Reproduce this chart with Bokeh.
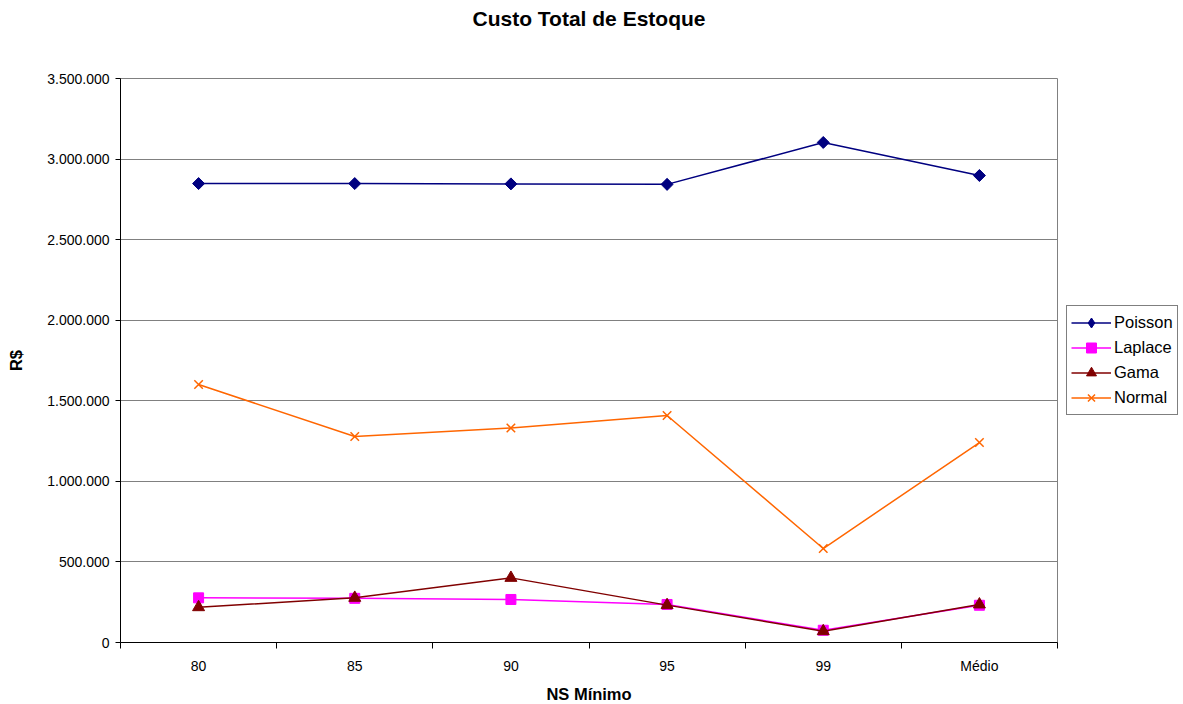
import math

from bokeh.plotting import figure
from bokeh.models import (ColumnDataSource, FixedTicker, Legend, LegendItem,
                          Range1d, Title)
from bokeh.embed import file_html
from bokeh.resources import INLINE

# Service-level categories (x axis)
categorias = ["80", "85", "90", "95", "99", "Médio"]

# Total inventory cost per distribution (R$)
poisson = [2848000, 2848000, 2846000, 2843000, 3103000, 2898000]
laplace = [277000, 274000, 267000, 236000, 76000, 231000]
gama = [219000, 277000, 401000, 232000, 70000, 236000]
normal = [1601000, 1278000, 1331000, 1409000, 583000, 1241000]

y_ticks = [0, 500000, 1000000, 1500000, 2000000, 2500000, 3000000, 3500000]
y_tick_labels = ["0", "500.000", "1.000.000", "1.500.000", "2.000.000",
                 "2.500.000", "3.000.000", "3.500.000"]

FONT = "Liberation Sans"

xs = [i + 0.5 for i in range(len(categorias))]

p = figure(frame_width=937, frame_height=564, output_backend="svg",
           toolbar_location=None,
           x_range=Range1d(0, len(categorias)), y_range=Range1d(0, 3500000),
           min_border_left=120, min_border_right=126, min_border_top=78,
           min_border_bottom=62)

p.title = None
# blank spacer between the plot frame and the title
p.add_layout(Title(text=" ", text_font=FONT, text_font_size="10px",
                   standoff=34), "above")
p.add_layout(Title(text="Custo Total de Estoque", align="center",
                   text_font=FONT, text_font_size="21px", text_font_style="bold",
                   text_color="black", offset=0, standoff=4), "above")

p.outline_line_color = "#808080"
p.outline_line_width = 1
p.background_fill_color = "white"
p.border_fill_color = "white"

# x axis: labels at category centres, tick marks between categories
p.xaxis.ticker = FixedTicker(ticks=xs, minor_ticks=list(range(len(categorias) + 1)))
p.xaxis.major_label_overrides = {x: c for x, c in zip(xs, categorias)}
p.xaxis.major_tick_out = 0
p.xaxis.major_tick_in = 0
p.xaxis.minor_tick_out = 6
p.xaxis.minor_tick_in = 0
p.xaxis.minor_tick_line_color = "black"
p.xaxis.axis_line_color = "black"
p.xaxis.major_label_text_font = FONT
p.xaxis.major_label_text_font_size = "14px"
p.xaxis.major_label_text_color = "black"
p.xaxis.major_label_standoff = 9
p.xaxis.axis_label = "NS Mínimo"
p.xaxis.axis_label_text_font = FONT
p.xaxis.axis_label_text_font_size = "16.5px"
p.xaxis.axis_label_text_font_style = "bold"
p.xaxis.axis_label_text_color = "black"
p.xaxis.axis_label_standoff = 8

p.yaxis.ticker = FixedTicker(ticks=y_ticks, minor_ticks=[])
p.yaxis.major_label_overrides = {t: l for t, l in zip(y_ticks, y_tick_labels)}
p.yaxis.major_tick_out = 5
p.yaxis.major_tick_in = 0
p.yaxis.minor_tick_out = 0
p.yaxis.major_tick_line_color = "black"
p.yaxis.axis_line_color = "black"
p.yaxis.major_label_text_font = FONT
p.yaxis.major_label_text_font_size = "14px"
p.yaxis.major_label_text_color = "black"
p.yaxis.major_label_standoff = 6
p.yaxis.axis_label = "R$"
p.yaxis.axis_label_text_font = FONT
p.yaxis.axis_label_text_font_size = "16.5px"
p.yaxis.axis_label_text_font_style = "bold"
p.yaxis.axis_label_text_color = "black"
p.yaxis.axis_label_standoff = 19

p.xgrid.grid_line_color = None
p.ygrid.ticker = FixedTicker(ticks=y_ticks)
p.ygrid.grid_line_color = "#808080"
p.ygrid.grid_line_width = 1

# (name, values, colour, marker, size, angle, legend marker)
series = [
    ("Poisson", poisson, "#000080", "square", 8.5, math.pi / 4, "diamond"),
    ("Laplace", laplace, "#FF00FF", "square", 10, 0, None),
    ("Gama", gama, "#800000", "triangle", 12, 0, None),
    ("Normal", normal, "#FF6600", "x", 12, 0, None),
]

items = []
for nome, vals, cor, marcador, tam, ang, leg_marker in series:
    src = ColumnDataSource(dict(x=xs, y=vals))
    ln = p.line("x", "y", source=src, line_color=cor, line_width=1.5)
    rends = [ln]
    if leg_marker is not None:
        # diamond swatch for the legend, sits under the rotated squares
        sw = p.scatter("x", "y", source=src, marker=leg_marker, size=10,
                       fill_color=cor, line_color=cor)
        rends.append(sw)
    if marcador == "x":
        sc = p.scatter("x", "y", source=src, marker="x", size=tam,
                       line_color=cor, line_width=1.5)
    else:
        sc = p.scatter("x", "y", source=src, marker=marcador, size=tam,
                       angle=ang, fill_color=cor, line_color=cor)
    if leg_marker is None:
        rends.append(sc)
    items.append(LegendItem(label=nome, renderers=rends))

legend = Legend(items=items, location="center_left", border_line_color="black",
                border_line_width=1, background_fill_color="white",
                background_fill_alpha=1, label_text_font=FONT,
                label_text_font_size="16.5px", label_text_color="black",
                glyph_width=40, glyph_height=25,
                spacing=0, padding=4, margin=9, label_standoff=3,
                label_height=25)
p.add_layout(legend, "right")

open("out.html", "w").write(file_html(p, INLINE))
